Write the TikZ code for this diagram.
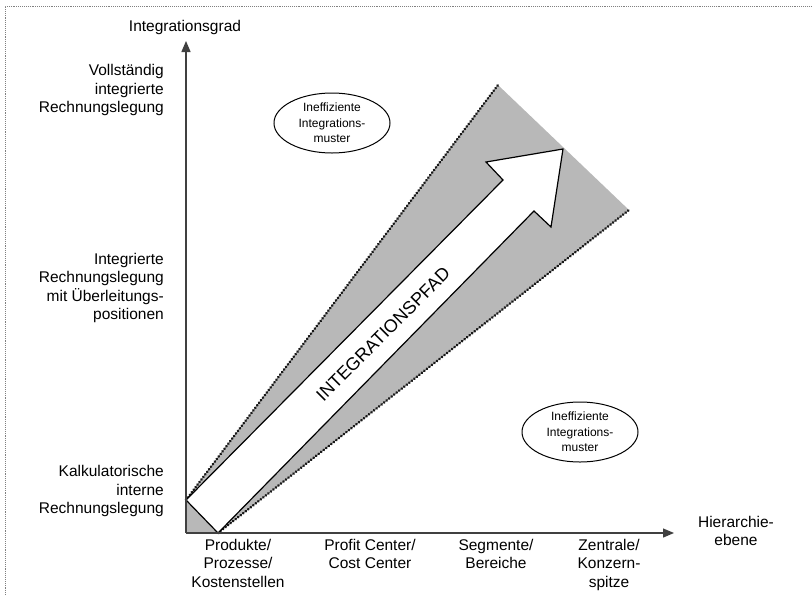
\documentclass[tikz,border=0pt]{standalone}
\usepackage{fontspec}
\setmainfont{Liberation Sans}
\usetikzlibrary{shapes.geometric,arrows.meta}
\tikzset{
  achse/.style={draw=black!75, line width=1.3pt, -{Triangle[length=11pt,width=9pt]}},
  rand/.style={draw=black!50, line width=0.9pt, densely dotted},
  punktlinie/.style={draw=black!90, line width=2.8pt, line cap=round, dash pattern=on 0.2pt off 3pt},
  stufe/.style={inner sep=0pt, align=right, anchor=east, font=\fontsize{15.5}{18.5}\selectfont},
  ebene/.style={inner sep=0pt, align=center, anchor=north, font=\fontsize{15.5}{18.5}\selectfont},
  muster/.style={ellipse, draw, line width=1pt, minimum width=116pt, minimum height=60pt,
    inner sep=0pt, align=center, font=\fontsize{12}{15.5}\selectfont},
}
\begin{document}
\begin{tikzpicture}[x=1pt,y=-1pt]
  \useasboundingbox (0,0) rectangle (812,595);
  % frame
  \draw[rand] (5,595) -- (5,6) -- (812,6);

  % axes
  \coordinate (O) at (186,533);
  \coordinate (ytip) at (186,41);
  \coordinate (xtip) at (674,533);

  % band
  \coordinate (A) at (186,500);
  \coordinate (B) at (218,533);
  \coordinate (oben) at (498,85);
  \coordinate (rechts) at (629,210);
  \fill[black!28] (O) -- (A) -- (oben) -- (rechts) -- (B) -- cycle;
  \draw[punktlinie] (A) -- (oben);
  \draw[punktlinie] (B) -- (rechts);

  % integration path arrow
  \coordinate (n1) at (503,180);
  \coordinate (bl) at (486,162);
  \coordinate (tip) at (563,149);
  \coordinate (br) at (551,227);
  \coordinate (n2) at (534,211);
  \draw[fill=white, line width=1.2pt, line join=miter]
    (A) -- (n1) -- (bl) -- (tip) -- (br) -- (n2) -- (B) -- cycle;
  \node[rotate=45, inner sep=0pt, font=\fontsize{18}{18}\selectfont] (pfad) at (383,334) {INTEGRATIONSPFAD};

  \draw[achse] (O) -- (ytip);
  \draw[achse] (O) -- (xtip);

  \node[inner sep=0pt, font=\fontsize{15.5}{18.5}\selectfont] (grad) at (185,27) {Integrationsgrad};
  \node[ebene, anchor=center] (hier) at (736,531) {Hierarchie-\\ebene};

  % levels of integration
  \node[stufe] (voll) at (164,90) {Vollständig\\integrierte\\Rechnungslegung};
  \node[stufe] (ueber) at (164,288) {Integrierte\\Rechnungslegung\\mit Überleitungs-\\positionen};
  \node[stufe] (kalk) at (164,491) {Kalkulatorische\\interne\\Rechnungslegung};

  % hierarchy levels
  \node[ebene] (prod) at (238,539) {Produkte/\\Prozesse/\\Kostenstellen};
  \node[ebene] (profit) at (370,539) {Profit Center/\\Cost Center};
  \node[ebene] (segm) at (496,539) {Segmente/\\Bereiche};
  \node[ebene] (zentr) at (609,539) {Zentrale/\\Konzern-\\spitze};

  % inefficient patterns
  \node[muster] (ineff1) at (332,123) {Ineffiziente\\Integrations-\\muster};
  \node[muster] (ineff2) at (580,432) {Ineffiziente\\Integrations-\\muster};
\end{tikzpicture}
\end{document}
